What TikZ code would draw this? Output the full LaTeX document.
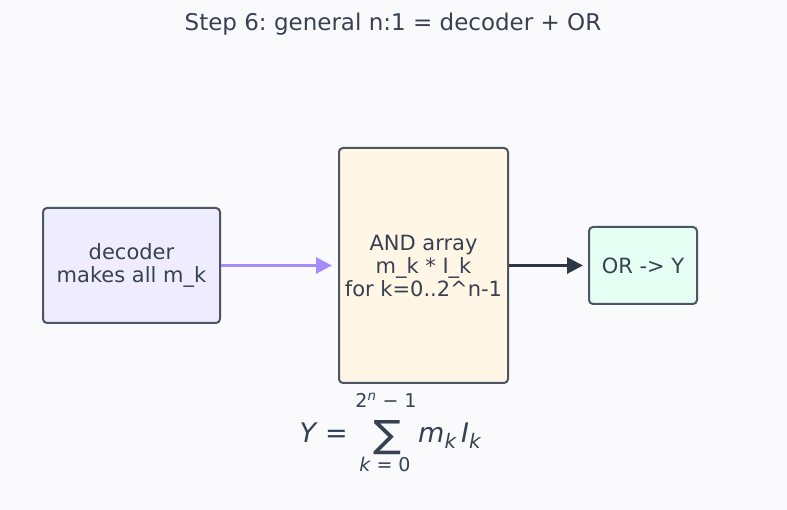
\documentclass[tikz,border=0pt]{standalone}
\usepackage{fontspec}
\setmainfont{DejaVu Sans}
\usetikzlibrary{positioning, arrows.meta}
\definecolor{bgwhite}{RGB}{250,250,253}
\definecolor{inkgray}{RGB}{55,65,81}
\definecolor{edgegray}{RGB}{75,85,99}
\definecolor{arrowdark}{RGB}{45,55,72}
\definecolor{arrowpurple}{RGB}{167,139,250}
\definecolor{decfill}{RGB}{239,236,255}
\definecolor{andfill}{RGB}{255,246,230}
\definecolor{orfill}{RGB}{230,255,244}
\frenchspacing

\begin{document}
\begin{tikzpicture}[x=1pt, y=-1pt,
    block/.style={draw=edgegray, line width=2pt, rounded corners=4pt,
      text=inkgray, font=\fontsize{21}{23}\selectfont, align=center, inner sep=0pt},
    mathtext/.style={text=inkgray, inner sep=0pt},
    flow/.style={line width=3pt, -{Triangle[length=16pt, width=16pt]}},
  ]
    \useasboundingbox[fill=bgwhite] (0,0) rectangle (787,510);
    \node[text=inkgray, font=\fontsize{23}{27}\selectfont] (title) at (393,24) {Step 6: general n:1 = decoder + OR};

    \node[block, fill=decfill, minimum width=177pt, minimum height=115pt] (decoder) at (131.5,265.5) {decoder\\makes all m\_k};
    \node[block, fill=andfill, minimum width=169pt, minimum height=235pt, right=117pt of decoder] (andarr) {AND array\\m\_k * I\_k\\for k=0..2\textasciicircum n-1};
    \node[block, fill=orfill, minimum width=108pt, minimum height=77pt, right=79pt of andarr] (orgate) {OR -> Y};

    \draw[flow, arrowpurple, shorten >=6pt] (decoder) -- (andarr);
    \draw[flow, arrowdark, shorten >=5pt] (andarr) -- (orgate);

    % sum formula
    \node[mathtext] (sumsign) at (387,438) {\resizebox{28pt}{27pt}{∑}};
    \node[mathtext, font=\fontsize{19}{19}\selectfont, anchor=base] (sumtop) at (386,407) {2\textsuperscript{\itshape n} − 1};
    \node[mathtext, font=\fontsize{19}{19}\selectfont, anchor=base] (sumbot) at (385,471) {{\itshape k} = 0};
    \node[mathtext, font=\fontsize{27}{27}\selectfont, anchor=base east] (yeq) at (348,442) {{\itshape Y}\,\,=};
    \node[mathtext, font=\fontsize{27}{27}\selectfont, anchor=base west] (mkik) at (418,442) {\itshape m\textsubscript{\fontsize{20}{20}\selectfont k}\,I\textsubscript{\fontsize{20}{20}\selectfont k}};
\end{tikzpicture}
\end{document}
